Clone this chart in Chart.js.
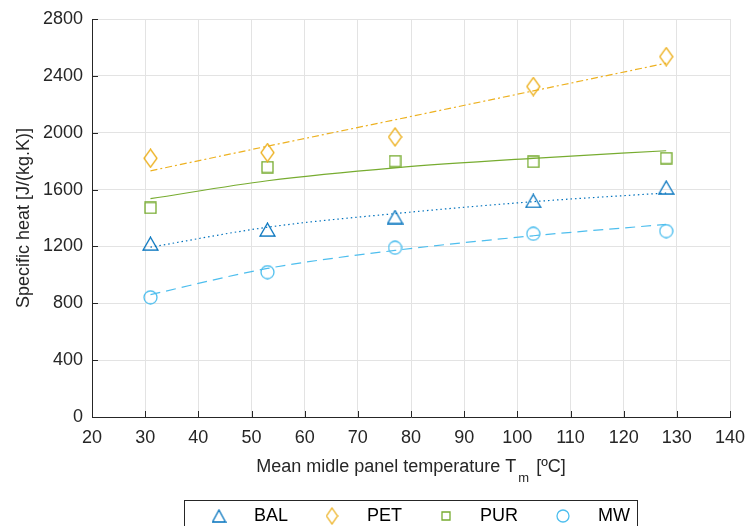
<!DOCTYPE html>
<html>
<head>
<meta charset="utf-8">
<script src="https://cdn.jsdelivr.net/npm/chart.js@4.4.1/dist/chart.umd.min.js"></script>
<style>
  html, body { margin: 0; padding: 0; background: #fff; }
  #wrap { width: 746px; height: 526px; }
</style>
</head>
<body>
<div id="wrap"><canvas id="mycanvas" width="746" height="526"></canvas></div>
<script>
// mean middle panel temperature (x) for every panel
var temps = [31, 53, 77, 103, 128];

// measured specific heat, J/(kg.K)
var bal = [1219, 1318, 1407, 1520, 1614];
var pet = [1820, 1860, 1970, 2325, 2535];
var pur = [1471, 1758, 1800, 1795, 1821];
var mw  = [842, 1019, 1191, 1289, 1308];

// trend lines at the same temperatures
var balFit = [1195, 1335, 1431, 1515, 1576];
var petFit = [1732, 1905, 2091, 2294, 2489];
var purFit = [1536, 1662, 1753, 1820, 1873];
var mwFit  = [861, 1045, 1172, 1275, 1355];

var names = ['BAL', 'PET', 'PUR', 'MW'];
var xTicks = [20, 30, 40, 50, 60, 70, 80, 90, 100, 110, 120, 130, 140];
var yTicks = [0, 400, 800, 1200, 1600, 2000, 2400, 2800];

var colors = ['#0072BD', '#EDB120', '#77AC30', '#4DBEEE'];
var FONT = '"Liberation Sans", Arial, Helvetica, sans-serif';

function makeMarker(kind, color, w, h) {
    var c = document.createElement('canvas');
    c.width = w + 2; c.height = h + 2;
    var g = c.getContext('2d');
    g.strokeStyle = color;
    g.lineWidth = 1.3;
    g.beginPath();
    if (kind == 'tri') {
        g.moveTo(1 + w / 2, 1);
        g.lineTo(1 + w, 1 + h);
        g.lineTo(1, 1 + h);
        g.closePath();
    } else if (kind == 'dia') {
        g.moveTo(1 + w / 2, 1);
        g.lineTo(1 + w, 1 + h / 2);
        g.lineTo(1 + w / 2, 1 + h);
        g.lineTo(1, 1 + h / 2);
        g.closePath();
    } else if (kind == 'sq') {
        g.rect(1, 1, w, h);
    } else {
        g.ellipse(1 + w / 2, 1 + h / 2, w / 2, h / 2, 0, 0, Math.PI * 2);
    }
    g.stroke();
    return c;
}

var markers = [
    makeMarker('tri', colors[0], 15, 13),
    makeMarker('dia', colors[1], 13, 18),
    makeMarker('sq', colors[2], 11, 11),
    makeMarker('circ', colors[3], 13, 13)
];
var legendMarkers = [
    makeMarker('tri', colors[0], 13, 12),
    makeMarker('dia', colors[1], 11, 16),
    makeMarker('sq', colors[2], 8, 8),
    makeMarker('circ', colors[3], 12, 12)
];

function pts(ys) {
    var out = [];
    for (var i in temps) out.push({x: temps[i], y: ys[i]});
    return out;
}

var series = [bal, pet, pur, mw];
var fits = [balFit, petFit, purFit, mwFit];
var dashes = [[1.5, 3], [7, 3, 2, 3], [], [10, 6]];

var datasets = [];
for (var i = 0; i < 4; i++) {
    datasets.push({
        label: names[i] + ' fit',
        data: pts(fits[i]),
        showLine: true,
        borderColor: colors[i],
        borderWidth: 1.2,
        borderDash: dashes[i],
        pointRadius: 0,
        cubicInterpolationMode: i == 1 ? 'default' : 'monotone',
        tension: i == 1 ? 0 : 0.4,
        fill: false
    });
}
for (var i = 0; i < 4; i++) {
    datasets.push({
        label: names[i],
        data: pts(series[i]),
        showLine: false,
        pointStyle: markers[i],
        pointRadius: 8,
        borderColor: colors[i],
        backgroundColor: 'rgba(0,0,0,0)'
    });
}

// inward tick marks, x title with subscript, boxed legend
var extras = {
    id: 'extras',
    afterDraw: function(chart) {
        var ctx = chart.ctx;
        var a = chart.chartArea;
        var xs = chart.scales.x, ys = chart.scales.y;
        ctx.save();
        ctx.strokeStyle = '#262626';
        ctx.lineWidth = 1;
        ctx.beginPath();
        xTicks.forEach(function(t) {
            var px = Math.round(xs.getPixelForValue(t)) + 0.5;
            ctx.moveTo(px, a.bottom);
            ctx.lineTo(px, a.bottom - 6);
        });
        yTicks.forEach(function(t) {
            var py = Math.round(ys.getPixelForValue(t)) + 0.5;
            ctx.moveTo(a.left, py);
            ctx.lineTo(a.left + 6, py);
        });
        ctx.stroke();

        // x axis title
        var p1 = 'Mean midle panel temperature T', sub = 'm', p2 = ' [\u00baC]';
        ctx.fillStyle = '#262626';
        ctx.font = '18px ' + FONT;
        var w1 = ctx.measureText(p1).width, w3 = ctx.measureText(p2).width;
        ctx.font = '13px ' + FONT;
        var w2 = ctx.measureText(sub).width;
        var x0 = 411 - (w1 + w2 + w3 + 4) / 2;
        ctx.textBaseline = 'alphabetic';
        ctx.textAlign = 'left';
        ctx.font = '18px ' + FONT;
        ctx.fillText(p1, x0, 472);
        ctx.font = '13px ' + FONT;
        ctx.fillText(sub, x0 + w1 + 2, 482);
        ctx.font = '18px ' + FONT;
        ctx.fillText(p2, x0 + w1 + w2 + 4, 472);

        // legend box
        ctx.strokeStyle = '#262626';
        ctx.lineWidth = 1;
        ctx.strokeRect(184.5, 500.5, 453, 40);
        var mx = [219, 332, 446, 563];
        var tx = [254, 367, 480, 598];
        ctx.font = '18px ' + FONT;
        ctx.fillStyle = '#000';
        ctx.textBaseline = 'middle';
        for (var k = 0; k < 4; k++) {
            var m = legendMarkers[k];
            ctx.drawImage(m, mx[k] - m.width / 2, 516 - m.height / 2);
            ctx.fillText(names[k], tx[k], 516);
        }
        ctx.restore();
    }
};

var ctx = document.getElementById('mycanvas');
var myChart = new Chart(ctx, {
    type: 'scatter',
    data: { datasets: datasets },
    options: {
        responsive: false,
        animation: false,
        devicePixelRatio: 1,
        layout: { padding: { left: 0, top: 19, right: 16, bottom: 0 } },
        plugins: {
            legend: { display: false },
            tooltip: { enabled: false }
        },
        scales: {
            x: {
                type: 'linear',
                min: 20, max: 140,
                afterBuildTicks: function(s) { s.ticks = xTicks.map(function(v) { return {value: v}; }); },
                afterFit: function(s) { s.height = 109; s.paddingLeft = 0; s.paddingRight = 0; },
                grid: { color: '#e3e3e3', drawTicks: false },
                border: { color: '#262626', width: 1 },
                ticks: { color: '#262626', font: { family: FONT, size: 18 }, padding: 10, maxRotation: 0,
                         callback: function(v) { return String(v); } }
            },
            y: {
                type: 'linear',
                min: 0, max: 2800,
                afterBuildTicks: function(s) { s.ticks = yTicks.map(function(v) { return {value: v}; }); },
                afterFit: function(s) { s.width = 92; s.paddingTop = 0; s.paddingBottom = 0; },
                grid: { color: '#e3e3e3', drawTicks: false },
                border: { color: '#262626', width: 1 },
                ticks: { color: '#262626', font: { family: FONT, size: 18 }, padding: 9,
                         callback: function(v) { return String(v); } },
                title: {
                    display: true,
                    text: 'Specific heat [J/(kg.K)]',
                    color: '#262626',
                    font: { family: FONT, size: 18 },
                    padding: { top: 13, bottom: 0 }
                }
            }
        }
    },
    plugins: [extras]
});
</script>
</body>
</html>
